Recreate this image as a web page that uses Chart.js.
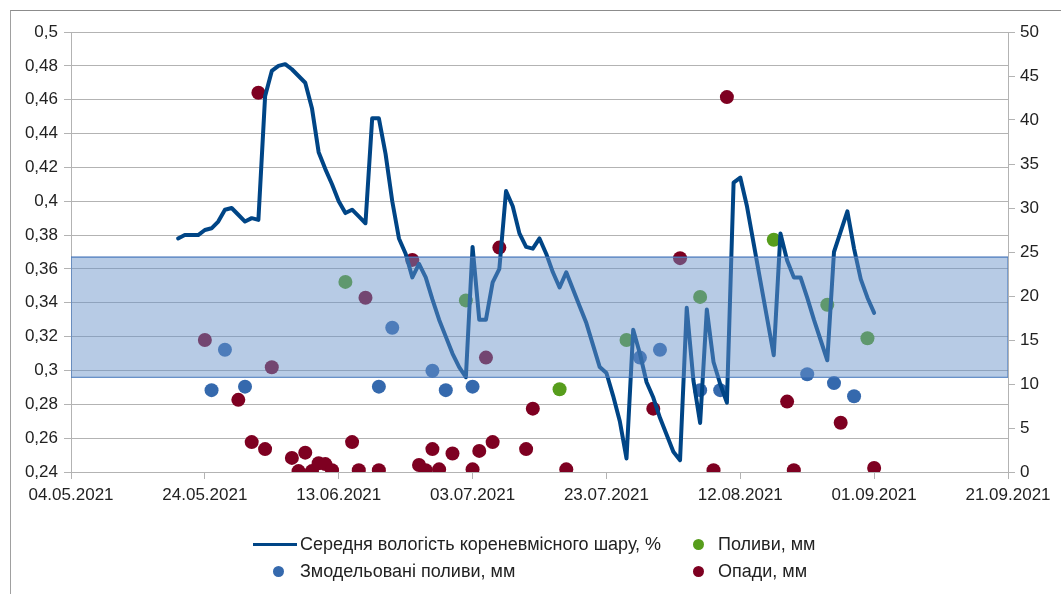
<!DOCTYPE html>
<html>
<head>
<meta charset="utf-8">
<script src="https://cdn.jsdelivr.net/npm/chart.js@4.4.1/dist/chart.umd.min.js"></script>
<style>
  body { margin: 0; background: #fff; }
  #wrap { position: relative; width: 1061px; height: 594px; font-family: "Liberation Sans", Arial, sans-serif; }
  #frame { position: absolute; left: 10px; top: 10px; right: 0; bottom: 0; border-left: 1px solid #a0a0a0; border-top: 1px solid #8c8c8c; pointer-events: none; }
  .lg { position: absolute; font-size: 18px; color: #222; line-height: 20px; white-space: nowrap; }
  .dot { position: absolute; width: 11px; height: 11px; border-radius: 50%; }
  .ln { position: absolute; width: 44px; height: 3px; }
</style>
</head>
<body>
<div id="wrap">
  <canvas id="soilChart"></canvas>
  <div id="frame"></div>
  <div id="legend"></div>
</div>
<script>
// середня вологість кореневмісного шару (ліва вісь)
var moistDates = ['20.05','21.05','22.05','23.05','24.05','25.05','26.05','27.05','28.05','29.05','30.05','31.05',
  '01.06','02.06','03.06','04.06','05.06','06.06','07.06','08.06','09.06','10.06','11.06','12.06','13.06','14.06','15.06',
  '16.06','17.06','18.06','19.06','20.06','21.06','22.06','23.06','24.06','25.06','26.06','27.06','28.06','29.06','30.06',
  '01.07','02.07','03.07','04.07','05.07','06.07','07.07','08.07','09.07','10.07','11.07','12.07','13.07','14.07','15.07',
  '16.07','17.07','18.07','19.07','20.07','21.07','22.07','23.07','24.07','25.07','26.07','27.07','28.07','29.07','30.07','31.07',
  '01.08','02.08','03.08','04.08','05.08','06.08','07.08','08.08','09.08','10.08','11.08','12.08','13.08','14.08','15.08',
  '16.08','17.08','18.08','19.08','20.08','21.08','22.08','23.08','24.08','25.08','26.08','27.08','28.08','29.08','30.08','31.08',
  '01.09'];
var moistValues = [0.378,0.380,0.380,0.380,0.383,0.384,0.388,0.395,0.396,0.392,0.388,0.390,
  0.389,0.462,0.477,0.480,0.481,0.478,0.474,0.470,0.455,0.429,0.419,0.410,0.400,0.393,0.395,
  0.391,0.387,0.449,0.449,0.428,0.400,0.378,0.369,0.355,0.363,0.355,0.342,0.330,0.320,0.310,
  0.302,0.296,0.373,0.330,0.330,0.352,0.360,0.406,0.397,0.381,0.373,0.372,0.378,0.369,0.358,
  0.349,0.358,0.348,0.338,0.328,0.315,0.302,0.2985,0.285,0.270,0.248,0.324,0.310,0.293,0.284,0.272,
  0.262,0.252,0.247,0.337,0.294,0.269,0.336,0.305,0.292,0.281,0.411,0.414,0.397,0.375,0.353,
  0.331,0.309,0.381,0.365,0.355,0.355,0.343,0.330,0.318,0.306,0.370,0.382,0.394,0.372,0.354,0.343,
  0.334];

// змодельовані поливи, мм (права вісь)
var modelDates = ['25.05','27.05','30.05','19.06','21.06','27.06','29.06','03.07','28.07','31.07','06.08','09.08','22.08','26.08','29.08'];
var modelValues = [9.3,13.9,9.7,9.7,16.4,11.5,9.3,9.7,13.0,13.9,9.3,9.3,11.1,10.1,8.6];

// поливи, мм
var irrDates = ['14.06','02.07','16.07','26.07','06.08','17.08','25.08','31.08'];
var irrValues = [21.6,19.5,9.4,15.0,19.9,26.4,19.0,15.2];

// опади, мм
var rainDates = ['24.05','29.05','31.05','01.06','02.06','03.06','06.06','07.06','08.06','09.06','10.06','11.06','12.06',
  '15.06','16.06','17.06','19.06','24.06','25.06','26.06','27.06','28.06','30.06','03.07','04.07','05.07','06.07','07.07',
  '11.07','12.07','17.07','30.07','03.08','08.08','10.08','19.08','20.08','27.08','01.09'];
var rainValues = [15.0,8.2,3.4,43.1,2.6,11.9,1.6,0.1,2.2,0.1,1.0,0.9,0.2,
  3.4,0.2,19.8,0.2,24.1,0.8,0.2,2.6,0.3,2.1,0.3,2.4,13.0,3.4,25.5,
  2.6,7.2,0.3,7.2,24.3,0.2,42.6,8.0,0.2,5.6,0.45];

// межі оптимальної вологості
var bandTop = 0.367;
var bandBottom = 0.296;

var dateTicks = ['04.05.2021','24.05.2021','13.06.2021','03.07.2021','23.07.2021','12.08.2021','01.09.2021','21.09.2021'];

var base = Date.UTC(2021, 4, 4);
function dayOf(s) {
  var p = s.split('.').map(Number);
  return (Date.UTC(2021, p[1] - 1, p[0]) - base) / 864e5;
}
function pts(dates, vals) {
  return dates.map(function (d, i) { return { x: dayOf(d), y: vals[i] }; });
}
var xMax = dayOf(dateTicks[dateTicks.length - 1].slice(0, 5));

var tickFont = { family: '"Liberation Sans", Arial, sans-serif', size: 17 };
var gridCol = '#b3b3b3';

var ctx = document.getElementById('soilChart');
var chart = new Chart(ctx, {
  type: 'line',
  data: {
    datasets: [{
      label: 'Середня вологість кореневмісного шару, %',
      data: pts(moistDates, moistValues),
      borderColor: '#004586',
      borderWidth: 4,
      borderJoinStyle: 'round',
      borderCapStyle: 'round',
      pointRadius: 0,
      tension: 0,
      fill: false,
      yAxisID: 'y',
      order: 1
    }, {
      label: 'Поливи, мм',
      type: 'scatter',
      data: pts(irrDates, irrValues),
      backgroundColor: '#579d1c',
      borderWidth: 0,
      pointRadius: 7,
      yAxisID: 'y1',
      order: 2
    }, {
      label: 'Змодельовані поливи, мм',
      type: 'scatter',
      data: pts(modelDates, modelValues),
      backgroundColor: '#3569ad',
      borderWidth: 0,
      pointRadius: 7,
      yAxisID: 'y1',
      order: 2
    }, {
      label: 'Опади, мм',
      type: 'scatter',
      data: pts(rainDates, rainValues),
      backgroundColor: '#7e0021',
      borderWidth: 0,
      pointRadius: 7,
      yAxisID: 'y1',
      order: 2
    }, {
      label: 'band',
      data: [{ x: 0, y: bandTop }, { x: xMax, y: bandTop }],
      fill: { value: bandBottom },
      backgroundColor: 'rgba(105,146,200,0.48)',
      borderWidth: 0,
      pointRadius: 0,
      yAxisID: 'y',
      order: 0
    }, {
      label: 'bandEdge',
      data: [{ x: 0, y: bandTop }, { x: xMax, y: bandTop }, { x: xMax, y: bandBottom }, { x: 0, y: bandBottom }, { x: 0, y: bandTop }],
      fill: false,
      borderColor: '#3a6db5',
      borderWidth: 1.2,
      pointRadius: 0,
      yAxisID: 'y',
      order: 0
    }]
  },
  options: {
    responsive: true,
    maintainAspectRatio: false,
    animation: false,
    events: [],
    layout: { padding: { top: 32, bottom: 92, left: 0, right: 0 } },
    plugins: {
      legend: { display: false },
      tooltip: { enabled: false }
    },
    scales: {
      x: {
        type: 'linear',
        min: 0,
        max: xMax,
        afterBuildTicks: function (s) {
          s.ticks = dateTicks.map(function (t) { return { value: dayOf(t.slice(0, 5)), label: t }; });
        },
        ticks: {
          font: tickFont,
          color: '#222',
          padding: 6,
          maxRotation: 0,
          autoSkip: false,
          callback: function (v, i) { return dateTicks[i]; }
        },
        grid: { drawOnChartArea: false, color: gridCol, tickLength: 7 },
        border: { color: gridCol },
        afterFit: function (s) { s.height = 30; }
      },
      y: {
        position: 'left',
        min: 0.24,
        max: 0.5,
        ticks: {
          stepSize: 0.02,
          font: tickFont,
          color: '#222',
          padding: 6,
          callback: function (v) { return String(Number(v.toFixed(2))).replace('.', ','); }
        },
        grid: { color: gridCol, tickLength: 7 },
        border: { color: gridCol },
        afterFit: function (s) { s.width = 71; }
      },
      y1: {
        position: 'right',
        min: 0,
        max: 50,
        ticks: { stepSize: 5, font: tickFont, color: '#222', padding: 5 },
        grid: { drawOnChartArea: false, color: gridCol, tickLength: 7 },
        border: { color: gridCol },
        afterFit: function (s) { s.width = 53; }
      }
    }
  }
});

// легенда під графіком: дві колонки по два рядки
var legendPos = [
  { ds: 0, x: 253, y: 544 },
  { ds: 1, x: 698, y: 544 },
  { ds: 2, x: 278, y: 571 },
  { ds: 3, x: 698, y: 571 }
];
var legend = document.getElementById('legend');
legendPos.forEach(function (p) {
  var ds = chart.data.datasets[p.ds];
  var mark = document.createElement('div');
  if (p.ds === 0) {
    mark.className = 'ln';
    mark.style.left = p.x + 'px';
    mark.style.top = (p.y - 1.5) + 'px';
    mark.style.background = ds.borderColor;
  } else {
    mark.className = 'dot';
    mark.style.left = (p.x - 5.5) + 'px';
    mark.style.top = (p.y - 5.5) + 'px';
    mark.style.background = ds.backgroundColor;
  }
  legend.appendChild(mark);
  var txt = document.createElement('div');
  txt.className = 'lg';
  txt.textContent = ds.label;
  txt.style.left = (p.x < 300 ? 300 : 718) + 'px';
  txt.style.top = (p.y - 10) + 'px';
  legend.appendChild(txt);
});
</script>
</body>
</html>
